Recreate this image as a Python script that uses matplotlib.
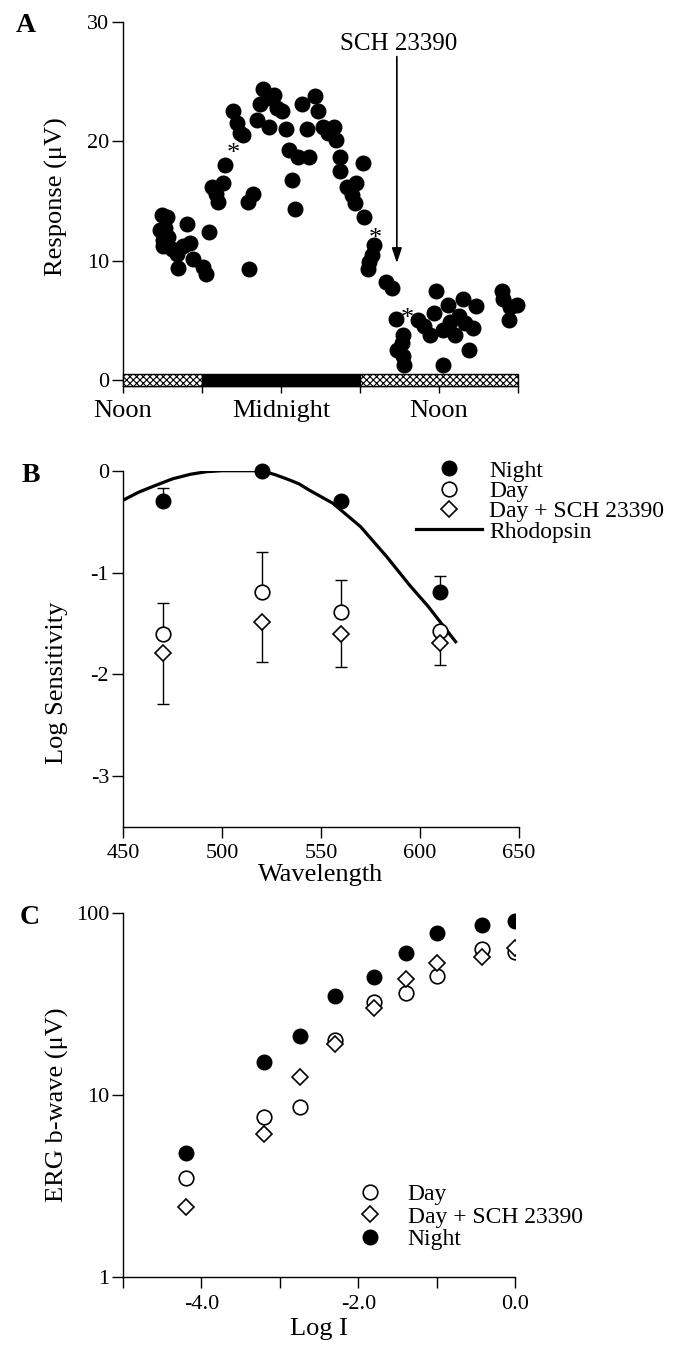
"""
Three-panel figure: circadian ERG response (A), spectral sensitivity (B),
intensity-response (C).
"""
import matplotlib.pyplot as plt
import numpy as np

# ==================== data ====================
# Panel A: hours after noon, response in uV
HOURS_A = [2.93, 3.31, 2.80, 3.20, 3.00, 3.43, 3.06, 3.69, 4.07, 4.83,
           5.08, 4.57, 4.20, 5.33, 6.10, 6.30, 6.53, 6.73, 7.06, 7.24,
           7.62, 7.74, 8.33, 8.63, 8.88, 9.09, 9.51, 9.85, 9.59, 10.15,
           10.40, 10.60, 11.00, 11.50, 11.10, 11.67, 12.10, 12.40, 12.60, 13.30,
           14.10, 12.80, 13.06, 13.60, 14.60, 14.80, 13.95, 15.20, 16.00, 15.60,
           16.20, 16.50, 16.50, 17.00, 17.70, 17.40, 17.60, 18.20, 18.30, 19.10,
           18.90, 18.70, 18.60, 20.00, 20.40, 20.70, 21.30, 21.20, 20.80, 21.30,
           21.35, 22.40, 22.90, 23.30, 23.80, 23.60, 24.30, 24.30, 24.70, 24.80,
           25.20, 25.50, 25.80, 26.00, 26.30, 26.60, 26.80, 28.80, 28.90, 29.40,
           29.90, 29.30]
RESP_A = [13.8, 13.7, 12.6, 12.7, 11.7, 12.0, 11.2, 11.0, 10.6, 13.1,
          11.5, 11.2, 9.4, 10.1, 9.5, 8.9, 12.4, 16.2, 15.6, 14.9,
          16.5, 18.0, 22.5, 21.5, 20.7, 20.5, 14.9, 15.6, 9.3, 21.8,
          23.1, 24.4, 23.6, 23.9, 21.2, 22.8, 22.5, 21.0, 19.3, 18.7,
          18.7, 16.8, 14.3, 23.1, 23.8, 22.5, 21.0, 21.2, 21.2, 20.7,
          20.1, 18.7, 17.5, 16.2, 16.5, 15.5, 14.8, 18.2, 13.7, 11.3,
          10.5, 9.9, 9.3, 8.2, 7.7, 5.1, 3.8, 3.1, 2.5, 2.0,
          1.3, 5.0, 4.5, 3.8, 7.5, 5.6, 4.2, 1.3, 6.3, 4.9,
          3.8, 5.4, 6.8, 4.75, 2.5, 4.4, 6.2, 7.5, 6.8, 6.1,
          6.3, 5.0]
STAR_HOURS = [8.38, 19.2, 21.6]
STAR_RESP = [19.4, 12.3, 5.6]
DRUG_HOUR = 20.8
DRUG_ARROW = (27.1, 9.8)         # arrow start / tip (uV)
PERIOD_START = [0, 6, 18]        # hours after noon
PERIOD_END = [6, 18, 30]
PERIOD_DARK = [False, True, False]
TIME_TICKS = [0, 6, 12, 18, 24, 30]
TIME_LABELS = ["Noon", "", "Midnight", "", "Noon", ""]

# Panel B: spectral sensitivity
WAVE_B = [470, 520, 560, 610]
NIGHT_B = [-0.30, 0.0, -0.30, -1.19]
NIGHT_B_UP = [0.13, 0.0, 0.0, 0.16]
DAY_B = [-1.60, -1.19, -1.39, -1.57]
DAY_B_UP = [0.30, 0.39, 0.32, 0.0]
SCH_B = [-1.79, -1.49, -1.60, -1.69]
SCH_B_DOWN = [0.50, 0.39, 0.33, 0.22]
RHO_NM = [450, 458, 467, 475, 484, 492, 500, 510, 520, 527, 534, 539, 544,
          556, 570, 583, 595, 604, 618]
RHO_LOG = [-0.29, -0.21, -0.14, -0.08, -0.035, -0.01, 0.0, 0.0, 0.0, -0.04,
           -0.09, -0.13, -0.19, -0.32, -0.55, -0.84, -1.13, -1.33, -1.68]

# Panel C: intensity-response
LOG_I = [-4.2, -3.2, -2.75, -2.3, -1.8, -1.4, -1.0, -0.43, 0.0]
NIGHT_C = [4.8, 15.2, 21.1, 35.1, 44.8, 60.2, 77.6, 85.9, 90.7]
DAY_C = [3.48, 7.6, 8.55, 20.1, 32.6, 36.6, 45.2, 63.4, 61.5]
SCH_C = [2.41, 6.07, 12.6, 19.2, 30.3, 43.4, 53.1, 57.3, 64.2]
# ===================================================================

plt.rcParams['font.family'] = ['Liberation Serif', 'DejaVu Serif']
plt.rcParams['axes.unicode_minus'] = False
plt.rcParams['hatch.linewidth'] = 0.8
plt.rcParams['axes.linewidth'] = 1.0

TICK_FS = 16
LABEL_FS = 19
LEG_FS = 17


def style_axis(ax):
    ax.spines['top'].set_visible(False)
    ax.spines['right'].set_visible(False)
    ax.tick_params(direction='out', length=8, width=1, labelsize=TICK_FS, pad=2)


def plot_panel_a(ax):
    # light/dark bar along the bottom
    for s, e, dark in zip(PERIOD_START, PERIOD_END, PERIOD_DARK):
        ax.bar(s, 0.98, width=e - s, bottom=-0.5, align='edge',
               facecolor='k' if dark else 'white', edgecolor='k',
               hatch=None if dark else 'xxxxx', linewidth=1.0, zorder=3,
               clip_on=False)

    ax.plot(HOURS_A, RESP_A, 'o', color='k', ms=10.5, clip_on=False, zorder=4)
    for h, r in zip(STAR_HOURS, STAR_RESP):
        ax.annotate('*', (h, r), xytext=(0, -4), textcoords='offset points',
                    ha='center', va='center', fontsize=19, zorder=5)

    ax.annotate('', xy=(DRUG_HOUR, DRUG_ARROW[1]), xytext=(DRUG_HOUR, DRUG_ARROW[0]),
                arrowprops=dict(arrowstyle='-|>,head_length=0.9,head_width=0.3',
                                lw=1.2, color='k', shrinkA=0, shrinkB=0))
    ax.text(DRUG_HOUR + 0.1, DRUG_ARROW[0] + 0.55, 'SCH 23390', ha='center',
            va='baseline', fontsize=18)

    ax.set_xlim(0, 30)
    ax.set_ylim(-0.5, 30)
    ax.set_yticks([0, 10, 20, 30])
    ax.set_xticks(TIME_TICKS)
    ax.set_xticklabels(TIME_LABELS)
    style_axis(ax)
    ax.tick_params(axis='x', length=5, labelsize=LABEL_FS, pad=5)
    ax.set_ylabel('Response (μV)', fontsize=LABEL_FS)
    ax.yaxis.set_label_coords(-0.138, 0.52)


def plot_panel_b(ax):
    ax.plot(RHO_NM, RHO_LOG, '-', color='k', lw=2.3, label='Rhodopsin', zorder=2)

    # error bars first, markers on top (legend shows markers only)
    ax.errorbar(WAVE_B, NIGHT_B, yerr=[[0] * 4, NIGHT_B_UP], fmt='none',
                ecolor='k', capsize=4, elinewidth=1, capthick=1, zorder=3)
    ax.errorbar(WAVE_B, DAY_B, yerr=[[0] * 4, DAY_B_UP], fmt='none',
                ecolor='k', capsize=4, elinewidth=1, capthick=1, zorder=3)
    ax.errorbar(WAVE_B, SCH_B, yerr=[SCH_B_DOWN, [0] * 4], fmt='none',
                ecolor='k', capsize=4, elinewidth=1, capthick=1, zorder=3)

    ax.plot(WAVE_B, NIGHT_B, 'o', color='k', ms=10.5, clip_on=False,
            label='Night', zorder=5)
    ax.plot(WAVE_B, DAY_B, 'o', mfc='white', mec='k', ms=10.5, mew=1.2,
            label='Day', zorder=4)
    ax.plot(WAVE_B, SCH_B, 'D', mfc='white', mec='k', ms=8.5, mew=1.2,
            label='Day + SCH 23390', zorder=4)

    ax.set_xlim(450, 650)
    ax.set_ylim(-3.5, 0)
    ax.set_xticks([450, 500, 550, 600, 650])
    ax.set_yticks([0, -1, -2, -3])
    ax.set_yticklabels(['0', '-1', '-2', '-3'])
    style_axis(ax)
    ax.tick_params(axis='x', pad=4)
    ax.set_xlabel('Wavelength', fontsize=LABEL_FS, labelpad=1)
    ax.set_ylabel('Log Sensitivity', fontsize=LABEL_FS)
    ax.yaxis.set_label_coords(-0.138, 0.405)

    handles, labels = ax.get_legend_handles_labels()
    order = [labels.index(n) for n in ['Night', 'Day', 'Day + SCH 23390', 'Rhodopsin']]
    ax.legend([handles[i] for i in order], [labels[i] for i in order],
              loc='upper left', bbox_to_anchor=(0.74, 1.03), frameon=False,
              fontsize=LEG_FS, handlelength=2.8, handletextpad=0.3,
              labelspacing=-0.05, borderpad=0, borderaxespad=0)


def plot_panel_c(ax):
    ax.plot(LOG_I, DAY_C, 'o', mfc='white', mec='k', ms=10.5, mew=1.2,
            label='Day', zorder=3)
    ax.plot(LOG_I, SCH_C, 'D', mfc='white', mec='k', ms=8.5, mew=1.2,
            label='Day + SCH 23390', zorder=3)
    ax.plot(LOG_I, NIGHT_C, 'o', color='k', ms=10.5, label='Night', zorder=4)

    ax.set_yscale('log')
    ax.set_xlim(-5, 0)
    ax.set_ylim(1, 100)
    ax.set_xticks([-5, -4, -3, -2, -1, 0])
    ax.set_xticklabels(['', '-4.0', '', '-2.0', '', '0.0'])
    ax.set_yticks([1, 10, 100])
    ax.set_yticklabels(['1', '10', '100'])
    ax.yaxis.set_minor_locator(plt.NullLocator())
    style_axis(ax)
    ax.tick_params(axis='x', pad=5)
    ax.set_xlabel('Log I', fontsize=LABEL_FS, labelpad=3)
    ax.set_ylabel('ERG b-wave (μV)', fontsize=LABEL_FS)
    ax.yaxis.set_label_coords(-0.138, 0.473)
    ax.legend(loc='upper left', bbox_to_anchor=(0.569, 0.257), frameon=False,
              fontsize=LEG_FS, handlelength=2.0, handletextpad=0.6,
              labelspacing=0.05, borderpad=0, borderaxespad=0)


def main() -> None:
    fig = plt.figure(figsize=(6.74, 13.64), dpi=100)

    ax_a = fig.add_axes([0.1825, 0.717, 0.586, 0.2669])
    ax_b = fig.add_axes([0.1825, 0.3937, 0.5875, 0.2612])
    ax_c = fig.add_axes([0.1825, 0.064, 0.5822, 0.2664])

    plot_panel_a(ax_a)
    plot_panel_b(ax_b)
    plot_panel_c(ax_c)

    # panel letters
    for letter, x, y in [('A', 26, 26), ('B', 31, 475), ('C', 30, 918)]:
        fig.text(x / 674, 1 - y / 1364, letter, ha='center', va='center',
                 fontsize=20, fontweight='bold')

    fig.savefig('out.png', dpi=100)
    plt.close(fig)


if __name__ == "__main__":
    main()
